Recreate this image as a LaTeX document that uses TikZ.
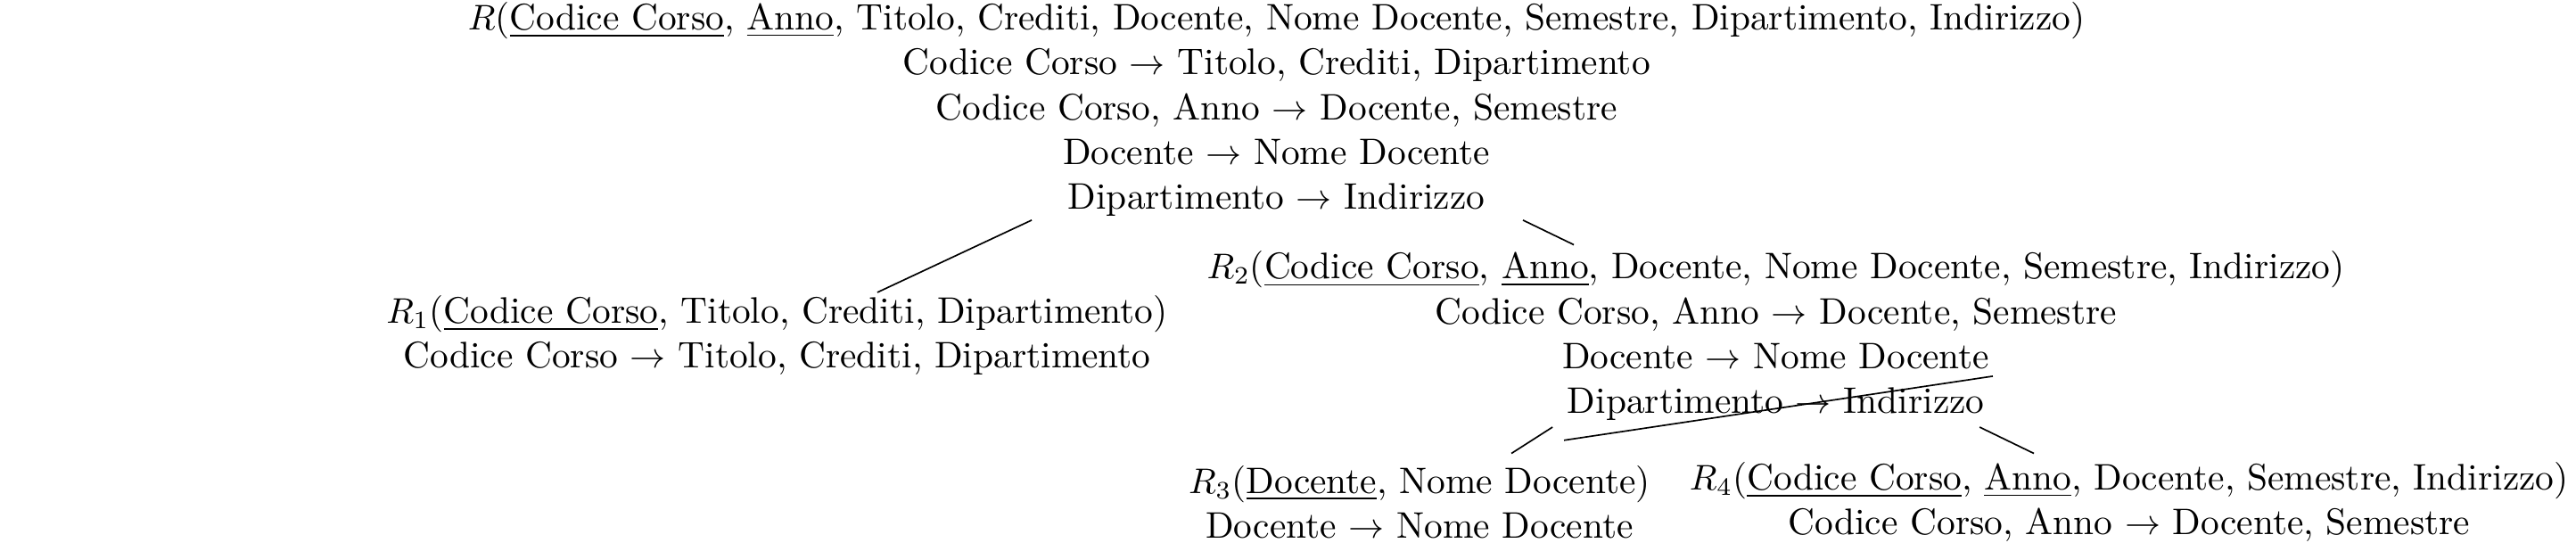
\documentclass[tikz,border=0pt]{standalone}
\begin{document}
\begin{tikzpicture}[x=0.4606pt,y=-0.4606pt,
  rel/.style={align=center,inner sep=0pt,font=\fontsize{10.35}{12.55}\selectfont},
  edge/.style={draw=black,line width=0.42pt}]
\useasboundingbox (0,0) rectangle (1568,330);
\node[rel] (R) at (777,66.5) {$R$(\underline{Codice Corso}, \underline{Anno}, Titolo, Crediti, Docente, Nome Docente, Semestre, Dipartimento, Indirizzo)\\
Codice Corso $\rightarrow$ Titolo, Crediti, Dipartimento\\
Codice Corso, Anno $\rightarrow$ Docente, Semestre\\
Docente $\rightarrow$ Nome Docente\\
Dipartimento $\rightarrow$ Indirizzo};
\node[rel] (R1) at (473,204) {$R_1$(\underline{Codice Corso}, Titolo, Crediti, Dipartimento)\\
Codice Corso $\rightarrow$ Titolo, Crediti, Dipartimento};
\node[rel] (R2) at (1081,204.5) {$R_2$(\underline{Codice Corso}, \underline{Anno}, Docente, Nome Docente, Semestre, Indirizzo)\\
Codice Corso, Anno $\rightarrow$ Docente, Semestre\\
Docente $\rightarrow$ Nome Docente\\
Dipartimento $\rightarrow$ Indirizzo};
\node[rel] (R3) at (864,305.5) {$R_3$(\underline{Docente}, Nome Docente)\\
Docente $\rightarrow$ Nome Docente};
\node[rel] (R4) at (1296,305.5) {$R_4$(\underline{Codice Corso}, \underline{Anno}, Docente, Semestre, Indirizzo)\\
Codice Corso, Anno $\rightarrow$ Docente, Semestre};
\coordinate (rA) at (628,134);
\coordinate (r1A) at (534,178);
\coordinate (rB) at (927,134);
\coordinate (r2A) at (958,149);
\coordinate (r2B) at (945,260);
\coordinate (r3A) at (920,276);
\coordinate (r2C) at (1205,260);
\coordinate (r4A) at (1238,276);
\coordinate (r2D) at (1213,229);
\coordinate (r2E) at (952,268);
\draw[edge] (rA) -- (r1A);
\draw[edge] (rB) -- (r2A);
\draw[edge] (r2B) -- (r3A);
\draw[edge] (r2C) -- (r4A);
\draw[edge] (r2D) -- (r2E);
\end{tikzpicture}
\end{document}
